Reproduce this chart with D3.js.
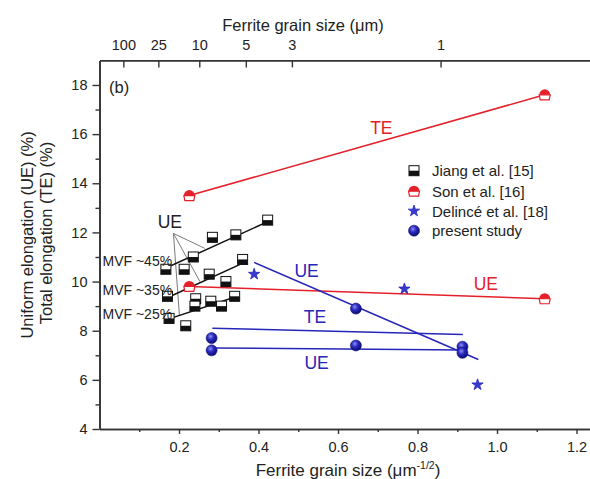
<!DOCTYPE html>
<html>
<head>
<meta charset="utf-8">
<script src="https://cdn.jsdelivr.net/npm/d3@7/dist/d3.min.js"></script>
<style>
  html, body { margin: 0; padding: 0; background: #fff; }
  svg { display: block; font-family: "Liberation Sans", Arial, sans-serif; }
</style>
</head>
<body>
<svg id="chart" width="590" height="479"></svg>
<script>
// ---- data ----
const xTicks = [0.2, 0.4, 0.6, 0.8, 1.0, 1.2];
const xMinorTicks = [0.1, 0.3, 0.5, 0.7, 0.9, 1.1];
const yTicks = [4, 6, 8, 10, 12, 14, 16, 18];
const yMinorTicks = [5, 7, 9, 11, 13, 15, 17];
// upper axis: grain size labels placed along the lower axis units
const topTickPos = [0.060, 0.148, 0.251, 0.368, 0.484, 0.858];
const topTickLabels = ["100", "25", "10", "5", "3", "1"];

const jiangX = [0.167, 0.236, 0.284, 0.343, 0.423, 0.213, 0.276, 0.318, 0.360, 0.171, 0.242, 0.240, 0.280, 0.307, 0.340, 0.175, 0.217];
const jiangY = [10.5, 11.0, 11.8, 11.9, 12.5, 10.5, 10.3, 10.0, 10.9, 9.4, 9.3, 9.0, 9.2, 9.0, 9.4, 8.5, 8.2];

const sonX = [0.226, 1.12];
const sonTE = [13.5, 17.6];
const sonUE = [9.8, 9.3];

const delinceX = [0.389, 0.767, 0.951];
const delinceY = [10.3, 9.7, 5.8];

const presentX = [0.282, 0.282, 0.645, 0.645, 0.913, 0.913];
const presentY = [7.7, 7.2, 8.9, 7.4, 7.35, 7.1];

// fitted trend lines [x0, x1], [y0, y1]
const fit45X = [0.156, 0.433], fit45Y = [10.47, 12.51];
const fit35X = [0.169, 0.362], fit35Y = [9.33, 10.76];
const fit25X = [0.175, 0.343], fit25Y = [8.48, 9.38];
const presUEslopeX = [0.389, 0.953], presUEslopeY = [10.78, 6.83];
const presTEX = [0.284, 0.914], presTEY = [8.10, 7.85];
const presUEX = [0.282, 0.915], presUEY = [7.30, 7.21];

// pointer lines from the "UE" note to the three fits
const noteApex = [0.186, 11.96];
const noteEndsX = [0.265, 0.253, 0.201];
const noteEndsY = [11.35, 9.99, 8.64];

const legendNames = ["Jiang et al. [15]", "Son et al. [16]", "Delincé et al. [18]", "present study"];

// ---- layout ----
const svg = d3.select("#chart");
const RED = "#e4202a", BLUE = "#2626b8", AXIS = "#333";
const x = d3.scaleLinear().domain([0, 1.25]).range([99.5, 596.4]);
const y = d3.scaleLinear().domain([4, 19]).range([429, 60.4]);

const defs = svg.append("defs");
const grad = defs.append("radialGradient").attr("id", "ball")
  .attr("cx", "40%").attr("cy", "35%").attr("r", "65%");
grad.append("stop").attr("offset", "0%").attr("stop-color", "#8e8ef0");
grad.append("stop").attr("offset", "45%").attr("stop-color", "#2a2ac0");
grad.append("stop").attr("offset", "100%").attr("stop-color", "#0c0c70");

// ---- axes ----
const gBottom = svg.append("g").attr("transform", `translate(0,${y(4)})`)
  .call(d3.axisBottom(x).tickValues(xTicks).tickFormat(d3.format(".1f")).tickSize(5).tickSizeOuter(0));
svg.append("g").attr("transform", `translate(0,${y(4)})`)
  .call(d3.axisBottom(x).tickValues(xMinorTicks).tickFormat("").tickSize(3).tickSizeOuter(0));

const gLeft = svg.append("g").attr("transform", `translate(${x(0)},0)`)
  .call(d3.axisLeft(y).tickValues(yTicks).tickSize(7).tickPadding(5).tickSizeOuter(0));
svg.append("g").attr("transform", `translate(${x(0)},0)`)
  .call(d3.axisLeft(y).tickValues(yMinorTicks).tickFormat("").tickSize(4).tickSizeOuter(0));

const gTop = svg.append("g").attr("transform", `translate(0,${y(19)})`)
  .call(d3.axisTop(x).tickValues(topTickPos).tickFormat((d, i) => topTickLabels[i]).tickSize(-7).tickPadding(10).tickSizeOuter(0));

svg.append("line").attr("x1", x(1.25)).attr("x2", x(1.25)).attr("y1", y(4)).attr("y2", y(19));

svg.selectAll(".domain").attr("stroke", AXIS).attr("stroke-width", 1.6);
svg.selectAll(".tick line").attr("stroke", AXIS).attr("stroke-width", 1.4);
svg.selectAll(".tick text").attr("fill", "#222").attr("font-size", 14.5).attr("font-family", "Liberation Sans, Arial, sans-serif");
gBottom.selectAll(".tick text").attr("dy", "1.05em");
gTop.selectAll(".tick text").attr("dy", "0em");

// axis titles
svg.append("text").attr("x", 303).attr("y", 31).attr("text-anchor", "middle")
  .attr("font-size", 16.5).attr("fill", "#222").text("Ferrite grain size (μm)");
const bt = svg.append("text").attr("x", 348).attr("y", 476).attr("text-anchor", "middle")
  .attr("font-size", 17).attr("fill", "#222");
bt.append("tspan").text("Ferrite grain size (μm");
bt.append("tspan").attr("dy", -7).attr("font-size", 10.5).text("-1/2");
bt.append("tspan").attr("dy", 7).text(")");

svg.append("text").attr("transform", "translate(33,235) rotate(-90)").attr("text-anchor", "middle")
  .attr("font-size", 16.5).attr("fill", "#222").text("Uniform elongation (UE) (%)");
svg.append("text").attr("transform", "translate(52,233) rotate(-90)").attr("text-anchor", "middle")
  .attr("font-size", 16.5).attr("fill", "#222").text("Total elongation (TE) (%)");

svg.append("text").attr("x", 109).attr("y", 93).attr("font-size", 16.5).attr("fill", "#222").text("(b)");

// ---- lines ----
const line = d3.line().x(d => x(d[0])).y(d => y(d[1]));
const seg = (xs, ys) => xs.map((v, i) => [v, ys[i]]);
function drawLine(pts, color, w) {
  svg.append("path").attr("d", line(pts)).attr("fill", "none").attr("stroke", color).attr("stroke-width", w);
}

// pointer lines for the UE note
noteEndsX.forEach((ex, i) => drawLine([noteApex, [ex, noteEndsY[i]]], "#7a7a7a", 1));

drawLine(seg(fit45X, fit45Y), "#111", 1.5);
drawLine(seg(fit35X, fit35Y), "#111", 1.5);
drawLine(seg(fit25X, fit25Y), "#111", 1.5);

drawLine(seg(sonX, sonTE), RED, 1.6);
drawLine(seg(sonX, sonUE), RED, 1.6);

drawLine(seg(presUEslopeX, presUEslopeY), BLUE, 1.5);
drawLine(seg(presTEX, presTEY), BLUE, 1.5);
drawLine(seg(presUEX, presUEY), BLUE, 1.5);

// ---- markers ----
function jiangMark(g, cx, cy) {
  g.append("rect").attr("x", cx - 5).attr("y", cy - 5).attr("width", 10).attr("height", 10)
    .attr("fill", "#fff").attr("stroke", "#111").attr("stroke-width", 1);
  g.append("rect").attr("x", cx - 5).attr("y", cy).attr("width", 10).attr("height", 5).attr("fill", "#111");
}
function sonMark(g, cx, cy) {
  g.append("path").attr("d", `M${cx - 5.5},${cy} L${cx - 4.5},${cy + 5} L${cx + 4.5},${cy + 5} L${cx + 5.5},${cy} Z`)
    .attr("fill", "#fff").attr("stroke", RED).attr("stroke-width", 1.2);
  g.append("path").attr("d", `M${cx - 5.5},${cy} A5.5,5.5 0 0 1 ${cx + 5.5},${cy} Z`).attr("fill", RED);
}
function starMark(g, cx, cy) {
  g.append("path").attr("d", d3.symbol(d3.symbolStar, 40)()).attr("transform", `translate(${cx},${cy})`)
    .attr("fill", "#3a3ad0").attr("stroke", BLUE).attr("stroke-width", 0.8);
}
function ballMark(g, cx, cy) {
  g.append("circle").attr("cx", cx).attr("cy", cy).attr("r", 5.5).attr("fill", "url(#ball)")
    .attr("stroke", "#141480").attr("stroke-width", 0.6);
}

const gm = svg.append("g");
jiangX.forEach((v, i) => jiangMark(gm, x(v), y(jiangY[i])));
sonX.forEach((v, i) => { sonMark(gm, x(v), y(sonTE[i])); sonMark(gm, x(v), y(sonUE[i])); });
delinceX.forEach((v, i) => starMark(gm, x(v), y(delinceY[i])));
presentX.forEach((v, i) => ballMark(gm, x(v), y(presentY[i])));

// ---- annotations ----
function label(txt, px, py, color, size, anchor) {
  svg.append("text").attr("x", px).attr("y", py).attr("text-anchor", anchor || "middle")
    .attr("dominant-baseline", "central").attr("font-size", size).attr("fill", color).text(txt);
}
label("TE", x(0.709), y(16.25), RED, 17.5);
label("UE", x(0.972), y(9.9), RED, 17.5);
label("UE", x(0.521), y(10.44), BLUE, 17.5);
label("TE", x(0.542), y(8.55), BLUE, 17.5);
label("UE", x(0.546), y(6.70), BLUE, 17.5);
label("UE", x(0.177), y(12.44), "#222", 17.5);
label("MVF ~45%", 102.5, 261, "#222", 14, "start");
label("MVF ~35%", 102.5, 290, "#222", 14, "start");
label("MVF ~25%", 102.5, 314, "#222", 14, "start");

// ---- legend ----
const lg = svg.append("g");
const rowY = [170.7, 191.2, 211, 230.7];
const markFns = [jiangMark, sonMark, starMark, ballMark];
legendNames.forEach((name, i) => {
  markFns[i](lg, 414, rowY[i]);
  lg.append("text").attr("x", 432).attr("y", rowY[i]).attr("dominant-baseline", "central")
    .attr("font-size", 15).attr("fill", "#222").text(name);
});
</script>
</body>
</html>
